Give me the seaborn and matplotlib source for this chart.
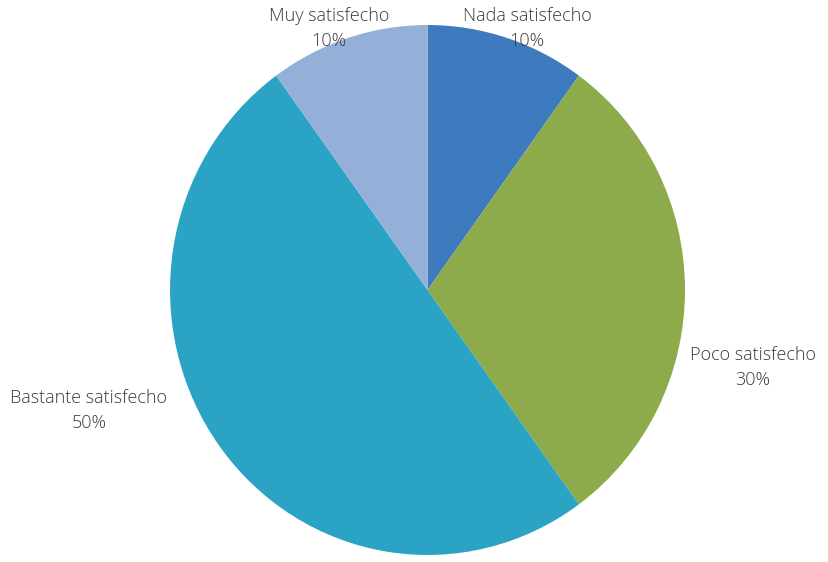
import matplotlib
matplotlib.use("Agg")
import matplotlib.pyplot as plt
import seaborn as sns

# Survey satisfaction shares
categories = ["Nada satisfecho", "Poco satisfecho", "Bastante satisfecho", "Muy satisfecho"]
shares = [10, 30, 50, 10]
colors = ["#3D7BBE", "#8DAB4B", "#2AA3C4", "#95B0D8"]

sns.set_theme(style="white")
plt.rcParams["font.family"] = ["Open Sans", "DejaVu Sans"]

fig = plt.figure(figsize=(8.29, 5.62), dpi=100)
ax = fig.add_axes([0.2051, 0.0125, 0.6212, 0.943])

ax.pie(shares, colors=colors, startangle=90, counterclock=False,
       wedgeprops=dict(linewidth=0))
ax.set_aspect("auto")
ax.set_xlim(-1, 1)
ax.set_ylim(-1, 1)
ax.axis("off")

# label anchor points (data coords of the pie axes)
label_xy = [(0.386, 0.985), (1.264, -0.294), (-1.315, -0.453), (-0.383, 0.985)]
for cat, val, (x, y) in zip(categories, shares, label_xy):
    ax.text(x, y, f"{cat}\n{val}%", ha="center", va="center",
            fontsize=13, fontweight="light", color="#3a3a3a",
            linespacing=1.5, clip_on=False)

fig.savefig("out.png", dpi=100, facecolor="white")
